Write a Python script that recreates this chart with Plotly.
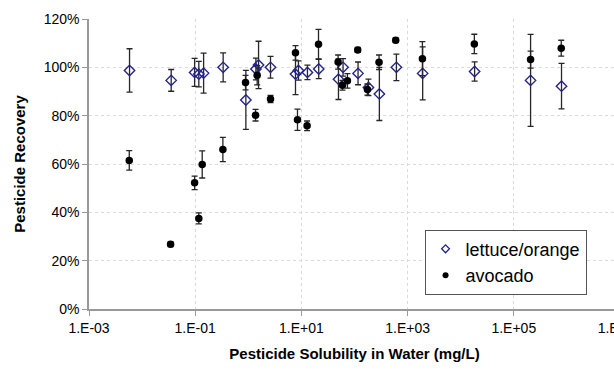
import plotly.graph_objects as go

# Lettuce/orange data
lettuce_x = [0.0058, 0.0353, 0.0975, 0.117, 0.144, 0.336, 0.90, 1.39, 1.56, 2.62,
             7.74, 8.8, 13.0, 21.2, 49.9, 60.9, 116.7, 183, 294, 615,
             1923, 18280, 207000, 792000]
lettuce_y = [98.7, 94.6, 97.9, 97.2, 97.6, 100.0, 86.5, 99.3, 101.0, 100.0,
             97.2, 98.7, 97.9, 99.3, 95.1, 100.0, 97.5, 91.7, 89.0, 100.0,
             97.5, 98.3, 94.6, 92.2]
lettuce_err = [9.0, 4.5, 5.8, 5.3, 8.3, 6.0, 12.2, 4.5, 9.8, 4.5,
               8.5, 4.0, 3.0, 4.0, 8.4, 3.6, 4.7, 3.4, 11.0, 5.5,
               11.0, 4.0, 19.0, 9.4]

# Avocado data
avocado_x = [0.00573, 0.0344, 0.0975, 0.117, 0.1355, 0.332, 0.887, 1.47, 1.37, 2.62,
             7.74, 8.44, 12.8, 21.0, 49.1, 59.3, 73.6, 115, 175, 290,
             597, 1900, 18070, 207000, 782000]
avocado_y = [61.5, 26.8, 52.2, 37.5, 59.8, 66.0, 93.7, 96.7, 80.2, 86.9,
             106.0, 78.3, 75.8, 109.6, 102.2, 92.6, 94.4, 107.2, 90.8, 102.1,
             111.2, 103.6, 109.7, 103.2, 107.9]
avocado_err = [4.0, 1.0, 2.8, 2.3, 5.6, 5.0, 3.0, 4.0, 2.4, 1.5,
               3.0, 4.4, 2.0, 6.1, 2.9, 2.0, 3.0, 1.0, 2.3, 3.0,
               1.0, 7.0, 4.0, 3.5, 3.3]

x_tickvals = [1e-3, 1e-1, 1e1, 1e3, 1e5, 1e7]
x_ticktext = ["1.E-03", "1.E-01", "1.E+01", "1.E+03", "1.E+05", "1.E+07"]
y_tickvals = [0, 20, 40, 60, 80, 100, 120]
y_ticktext = ["0%", "20%", "40%", "60%", "80%", "100%", "120%"]

NAVY = "#23238e"
ERR = "#262626"

fig = go.Figure()
fig.add_trace(go.Scatter(
    x=lettuce_x, y=lettuce_y, mode="markers", name="lettuce/orange", showlegend=False,
    marker=dict(symbol="diamond-open", size=8, color=NAVY, line=dict(width=1.4, color=NAVY)),
    error_y=dict(type="data", array=lettuce_err, visible=True, color=ERR, thickness=1.3, width=3),
))
fig.add_trace(go.Scatter(
    x=avocado_x, y=avocado_y, mode="markers", name="avocado", showlegend=False,
    marker=dict(symbol="circle", size=7.5, color="black"),
    error_y=dict(type="data", array=avocado_err, visible=True, color=ERR, thickness=1.3, width=3),
))
# legend-only entries (smaller symbols as in the original legend)
fig.add_trace(go.Scatter(
    x=[None], y=[None], mode="markers", name="lettuce/orange",
    marker=dict(symbol="diamond-open", size=6, color=NAVY, line=dict(width=1.3, color=NAVY)),
))
fig.add_trace(go.Scatter(
    x=[None], y=[None], mode="markers", name="avocado",
    marker=dict(symbol="circle", size=6, color="black"),
))

font_family = "Liberation Sans, Arial, sans-serif"
fig.update_layout(
    width=640, height=371,
    margin=dict(l=89, r=20, t=19, b=62, autoexpand=False),
    paper_bgcolor="white", plot_bgcolor="white",
    font=dict(family=font_family, size=14, color="black"),
    showlegend=True,
    legend=dict(x=0.937, y=0.1617, xanchor="right", yanchor="middle",
                bordercolor="#555555", borderwidth=1, bgcolor="white",
                font=dict(size=18), tracegroupgap=0, itemwidth=30),
    xaxis=dict(
        type="log", range=[-3, 7], automargin=False,
        tickvals=x_tickvals, ticktext=x_ticktext, ticklabeloverflow="allow",
        showgrid=True, gridcolor="#dadada", griddash="dot", gridwidth=1,
        showline=True, linecolor="#999999", linewidth=1.5,
        ticks="outside", ticklen=5, tickcolor="#999999",
        zeroline=False,
        title=dict(text="<b>Pesticide Solubility in Water (mg/L)</b>", font=dict(size=15), standoff=14),
        tickfont=dict(size=14),
    ),
    yaxis=dict(
        range=[0, 120], automargin=False,
        tickvals=y_tickvals, ticktext=y_ticktext,
        showgrid=True, gridcolor="#dadada", griddash="dot", gridwidth=1,
        showline=True, linecolor="#999999", linewidth=1.5,
        ticks="outside", ticklen=5, tickcolor="#999999",
        zeroline=False,
        title=dict(text="<b>Pesticide Recovery</b>", font=dict(size=15), standoff=14),
        tickfont=dict(size=14),
    ),
)

fig.write_html("out.html", post_script="document.body.style.overflow='hidden';document.documentElement.style.overflow='hidden';document.body.style.margin='0';")
